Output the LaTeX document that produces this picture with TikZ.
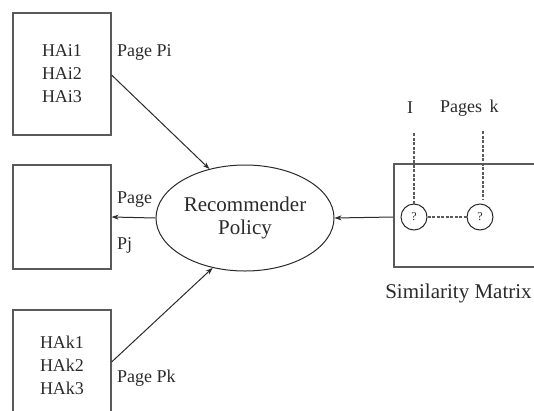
\documentclass[tikz,border=0pt]{standalone}
\usepackage{fontspec}
\setmainfont{Liberation Serif}
\usetikzlibrary{arrows.meta,shapes.geometric}
\definecolor{boxline}{HTML}{5A5A5A}
\definecolor{ink}{HTML}{2A2A2A}
\tikzset{
  pagebox/.style={draw=boxline,line width=1.2pt,minimum width=98pt,inner sep=0pt,
    align=center,text=ink,font=\fontsize{18}{23}\selectfont},
  lbl/.style={text=ink,font=\fontsize{18}{21}\selectfont,inner sep=0pt},
  arr/.style={draw=ink,line width=1pt,-{Stealth[length=7pt,width=5pt]}},
  qcircle/.style={circle,draw=ink,line width=1pt,minimum size=26pt,inner sep=0pt,
    text=ink,font=\fontsize{12}{14}\selectfont},
  fdash/.style={draw=boxline,line width=1.8pt,dash pattern=on 3pt off 1.5pt}
}
\begin{document}
\begin{tikzpicture}[x=1pt,y=-1pt]
\useasboundingbox (0,0) rectangle (534,410);
\clip (0,0) rectangle (534,410);
% left boxes
\node[pagebox,minimum height=122pt] (box1) at (62,74) {HAi1\\HAi2\\HAi3};
\node[pagebox,minimum height=104pt] (box2) at (62,217) {};
\node[pagebox,minimum height=110pt] (box3) at (62,365) {HAk1\\HAk2\\HAk3};
% policy
\node[ellipse,draw=ink,line width=1pt,minimum width=178pt,minimum height=106pt,
  align=center,text=ink,font=\fontsize{21}{23}\selectfont,inner sep=0pt] (pol) at (245,218)
  {Recommender\\Policy};
% matrix
\node[draw=boxline,line width=1.2pt,minimum width=151pt,minimum height=103pt,inner sep=0pt] (mat) at (469.5,215.5) {};
\node[qcircle] (c1) at (414,217) {?};
\node[qcircle] (c2) at (480,217) {?};
\coordinate (t1) at (414,133);
\coordinate (t2) at (483,131);
\coordinate (b2) at (483,200);
\draw[fdash] (t1) -- (c1.north);
\draw[fdash] (t2) -- (b2);
\draw[fdash] (c1.east) -- (c2.west);
% connectors
\draw[arr] ([yshift=-1pt]box1.east) -- (pol.126);
\draw[arr] (pol.west) -- (box2.east);
\draw[arr] ([yshift=3pt]box3.east) -- (pol.237);
\draw[arr] ([yshift=-1.5pt]mat.west) -- (pol.east);
% labels
\node[lbl,anchor=west] (lpi) at (117,52) {Page Pi};
\node[lbl,anchor=west] (lpage) at (117,200) {Page};
\node[lbl,anchor=west] (lpj) at (117,245) {Pj};
\node[lbl,anchor=west] (lpk) at (117,378) {Page Pk};
\node[lbl] (li) at (410,108) {I};
\node[lbl,anchor=west] (lpages) at (440,108) {Pages\, k};
\node[lbl,font=\fontsize{21}{23}\selectfont] (lsim) at (458.5,293) {Similarity Matrix};
\end{tikzpicture}
\end{document}
